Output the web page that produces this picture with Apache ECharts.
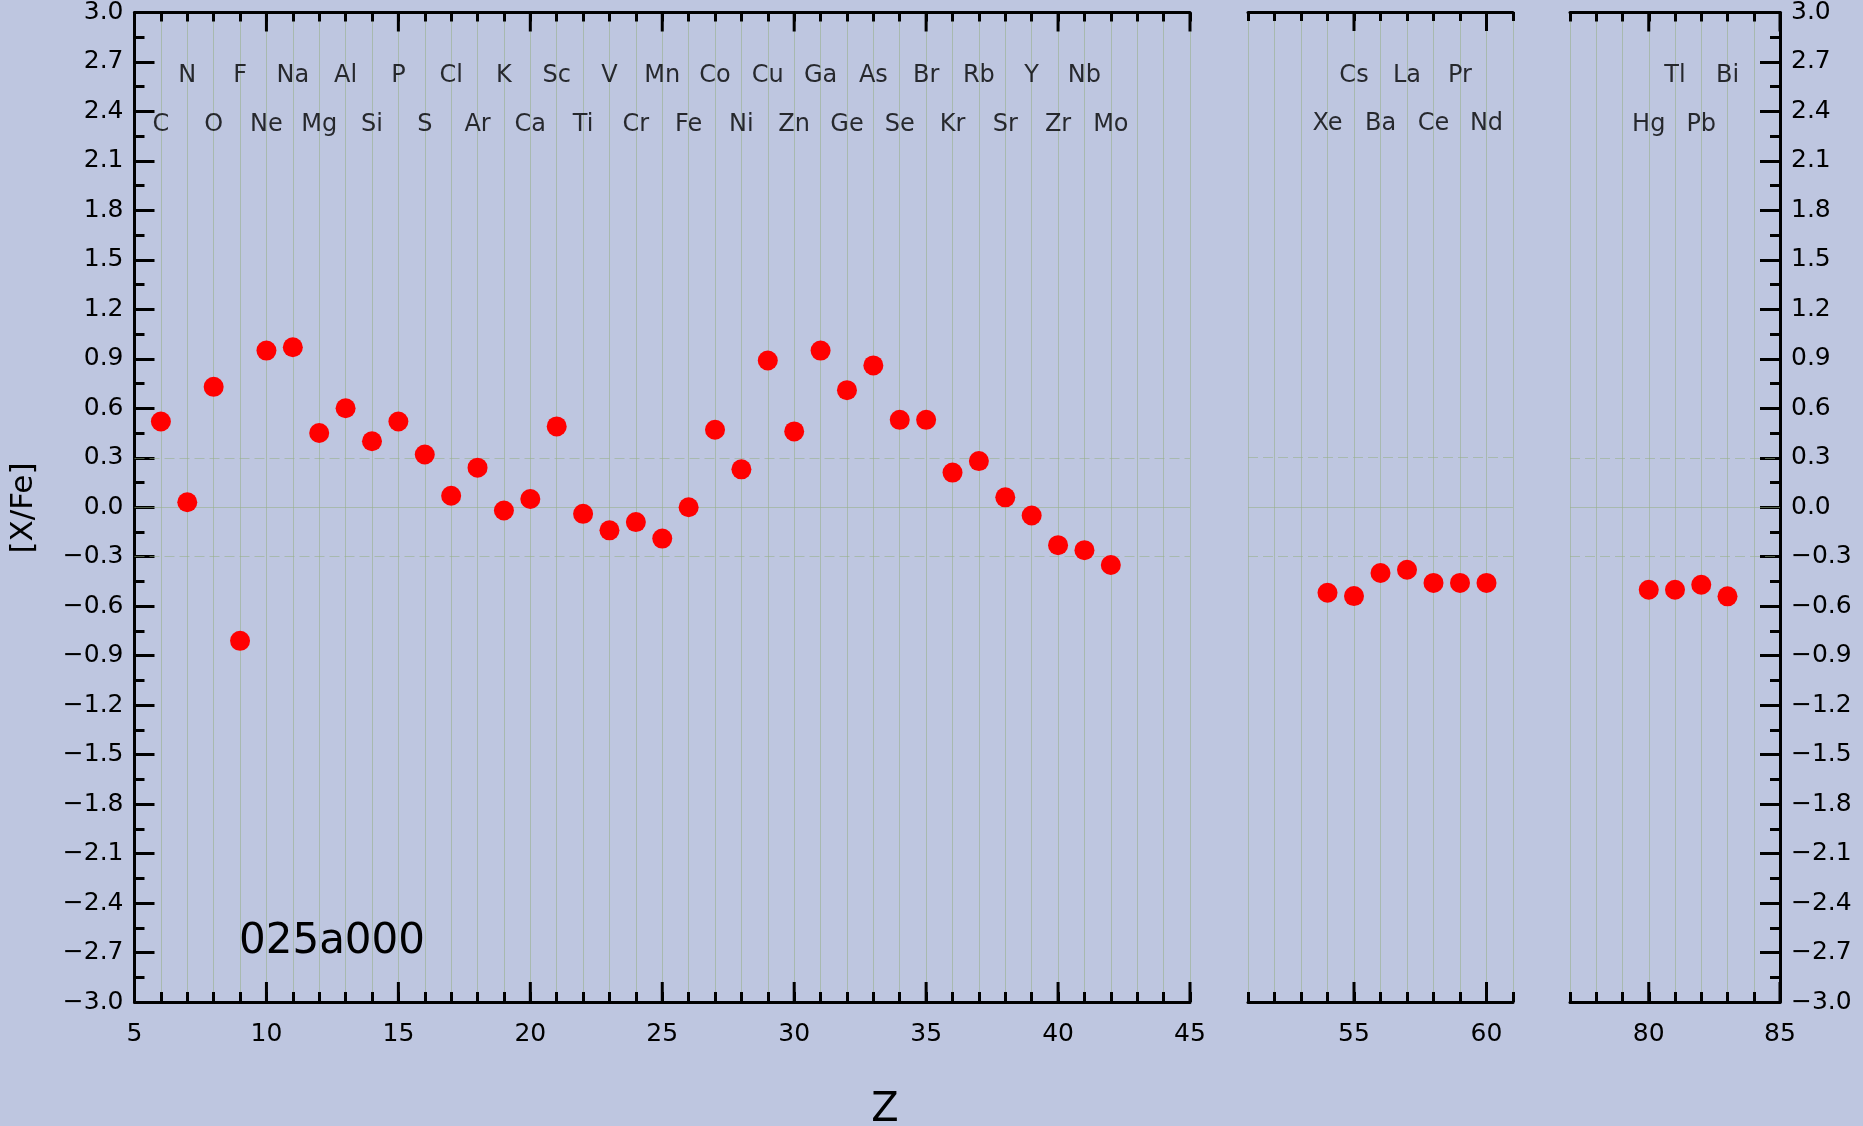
<!DOCTYPE html>
<html>
<head>
<meta charset="utf-8">
<script src="https://cdn.jsdelivr.net/npm/echarts@6/dist/echarts.min.js"></script>
<style>
  html, body { margin: 0; padding: 0; background: #bec6e0; }
  #chart { width: 1863px; height: 1126px; }
</style>
</head>
<body>
<div id="chart"></div>
<script>
// Atomic numbers, element symbols and [X/Fe] abundances, one set per Z range
const zLight = [6, 7, 8, 9, 10, 11, 12, 13, 14, 15, 16, 17, 18, 19, 20, 21, 22, 23, 24, 25, 26,
  27, 28, 29, 30, 31, 32, 33, 34, 35, 36, 37, 38, 39, 40, 41, 42];
const symLight = ['C', 'N', 'O', 'F', 'Ne', 'Na', 'Mg', 'Al', 'Si', 'P', 'S', 'Cl', 'Ar', 'K', 'Ca',
  'Sc', 'Ti', 'V', 'Cr', 'Mn', 'Fe', 'Co', 'Ni', 'Cu', 'Zn', 'Ga', 'Ge', 'As', 'Se', 'Br', 'Kr',
  'Rb', 'Sr', 'Y', 'Zr', 'Nb', 'Mo'];
const xfeLight = [0.52, 0.03, 0.73, -0.81, 0.95, 0.97, 0.45, 0.60, 0.40, 0.52, 0.32, 0.07, 0.24,
  -0.02, 0.05, 0.49, -0.04, -0.14, -0.09, -0.19, 0.00, 0.47, 0.23, 0.89, 0.46, 0.95, 0.71, 0.86,
  0.53, 0.53, 0.21, 0.28, 0.06, -0.05, -0.23, -0.26, -0.35];

const zMid = [54, 55, 56, 57, 58, 59, 60];
const symMid = ['Xe', 'Cs', 'Ba', 'La', 'Ce', 'Pr', 'Nd'];
const xfeMid = [-0.52, -0.54, -0.40, -0.38, -0.46, -0.46, -0.46];

const zHeavy = [80, 81, 82, 83];
const symHeavy = ['Hg', 'Tl', 'Pb', 'Bi'];
const xfeHeavy = [-0.50, -0.50, -0.47, -0.54];

const modelName = '025a000';

// Layout of the three broken-axis panels
const FONT = "'DejaVu Sans', sans-serif";
const TOP = 12, HEIGHT = 990;
const Y_MIN = -3, Y_MAX = 3;
const ROW_ODD = 2.615, ROW_EVEN = 2.32;
const GRID_COLOR = 'rgba(150,175,135,0.55)';
const MAJOR_LEN_TOP = 19, MAJOR_LEN_BOTTOM = 20;

const panels = [
  { min: 5, max: 45, left: 134.5, width: 1055.5, z: zLight, v: xfeLight, sym: symLight, yPos: 'left' },
  { min: 51, max: 61, left: 1248, width: 265, z: zMid, v: xfeMid, sym: symMid, yPos: null },
  { min: 77, max: 85, left: 1570, width: 210, z: zHeavy, v: xfeHeavy, sym: symHeavy, yPos: 'right' }
];

const fmtY = v => {
  if (Math.abs(v) < 1e-9) return '0.0';
  return (v < 0 ? '\u2212' : '') + Math.abs(v).toFixed(1);
};

const grid = [], xAxis = [], yAxis = [], series = [];
const pointSeriesIndex = [];

panels.forEach((p, i) => {
  grid.push({ left: p.left, top: TOP, width: p.width, height: HEIGHT });

  const base = {
    gridIndex: i, type: 'value', min: p.min, max: p.max, interval: 1, offset: 0,
    axisLine: { show: true, onZero: false, lineStyle: { color: '#000', width: 3 } },
    axisTick: { show: true, inside: true, length: 10, lineStyle: { color: '#000', width: 3 } },
    axisLabel: { show: false },
    splitLine: { show: false }
  };
  const idxA = xAxis.length;
  // bottom axis: unit ticks, labels on multiples of 5, vertical grid lines
  xAxis.push(Object.assign({}, base, {
    position: 'bottom',
    axisLabel: {
      show: true, color: '#000', fontSize: 25, fontFamily: FONT, margin: 20,
      formatter: v => (Math.abs(v % 5) < 1e-9 ? String(v) : '')
    },
    splitLine: { show: true, lineStyle: { color: GRID_COLOR, width: 1 } }
  }));
  // top axis: unit ticks only
  xAxis.push(Object.assign({}, base, {
    position: 'top',
    axisTick: { show: true, inside: true, length: 9, lineStyle: { color: '#000', width: 3 } }
  }));

  yAxis.push({
    gridIndex: i, type: 'value', min: Y_MIN, max: Y_MAX, interval: 0.3,
    show: p.yPos !== null,
    position: p.yPos || 'left',
    axisLine: { show: true, onZero: false, lineStyle: { color: '#000', width: 3 } },
    axisTick: { show: true, inside: true, length: 20, lineStyle: { color: '#000', width: 3 } },
    minorTick: { show: true, splitNumber: 2, length: 10, lineStyle: { color: '#000', width: 3 } },
    axisLabel: { show: true, color: '#000', fontSize: 25, fontFamily: FONT, margin: 11, formatter: fmtY },
    splitLine: { show: false }
  });

  // abundance points with reference lines at 0 and ±0.3
  pointSeriesIndex.push(series.length);
  series.push({
    type: 'scatter', xAxisIndex: idxA, yAxisIndex: i,
    data: p.z.map((z, k) => [z, p.v[k]]),
    symbol: 'circle', symbolSize: 20,
    itemStyle: { color: '#ff0000', opacity: 1 },
    emphasis: { disabled: true },
    z: 5,
    markLine: {
      silent: true, symbol: 'none', z: 1,
      label: { show: false },
      data: [
        { yAxis: 0, lineStyle: { color: GRID_COLOR, width: 1, type: 'solid' } },
        { yAxis: 0.3, lineStyle: { color: GRID_COLOR, width: 1, type: [10, 5] } },
        { yAxis: -0.3, lineStyle: { color: GRID_COLOR, width: 1, type: [10, 5] } }
      ]
    }
  });

  // element symbols, odd Z on the upper row, even Z on the lower row
  series.push({
    type: 'scatter', xAxisIndex: idxA, yAxisIndex: i, silent: true,
    symbolSize: 1, itemStyle: { color: 'rgba(0,0,0,0)' },
    data: p.z.map((z, k) => ({ value: [z, z % 2 ? ROW_ODD : ROW_EVEN], name: p.sym[k] })),
    label: { show: true, position: 'inside', formatter: '{b}', color: '#000', fontSize: 24, fontFamily: FONT },
    z: 6
  });
});

const chart = echarts.init(document.getElementById('chart'), null, { renderer: 'canvas' });
chart.setOption({
  backgroundColor: '#bec6e0',
  animation: false,
  grid, xAxis, yAxis, series
});

// Long ticks at every multiple of 5 on the top and bottom axes, placed through each panel's scales
const graphic = [
  { type: 'text', x: 332, y: 942, style: { text: modelName, fontSize: 42, fontFamily: FONT, fill: '#000', textAlign: 'center', textVerticalAlign: 'middle' } },
  { type: 'text', x: 885, y: 1111, style: { text: 'Z', fontSize: 40, fontFamily: FONT, fill: '#000', textAlign: 'center', textVerticalAlign: 'middle' } },
  { type: 'text', x: 24, y: 508, rotation: Math.PI / 2, style: { text: '[X/Fe]', fontSize: 31, fontFamily: FONT, fill: '#000', textAlign: 'center', textVerticalAlign: 'middle' } }
];
panels.forEach((p, i) => {
  for (let t = Math.ceil(p.min / 5) * 5; t <= p.max; t += 5) {
    const top = chart.convertToPixel({ seriesIndex: pointSeriesIndex[i] }, [t, Y_MAX]);
    const bot = chart.convertToPixel({ seriesIndex: pointSeriesIndex[i] }, [t, Y_MIN]);
    graphic.push({ type: 'line', silent: true, z: 10,
      shape: { x1: top[0], y1: top[1], x2: top[0], y2: top[1] + MAJOR_LEN_TOP },
      style: { stroke: '#000', lineWidth: 3 } });
    graphic.push({ type: 'line', silent: true, z: 10,
      shape: { x1: bot[0], y1: bot[1], x2: bot[0], y2: bot[1] - MAJOR_LEN_BOTTOM },
      style: { stroke: '#000', lineWidth: 3 } });
  }
});
chart.setOption({ graphic });
</script>
</body>
</html>
